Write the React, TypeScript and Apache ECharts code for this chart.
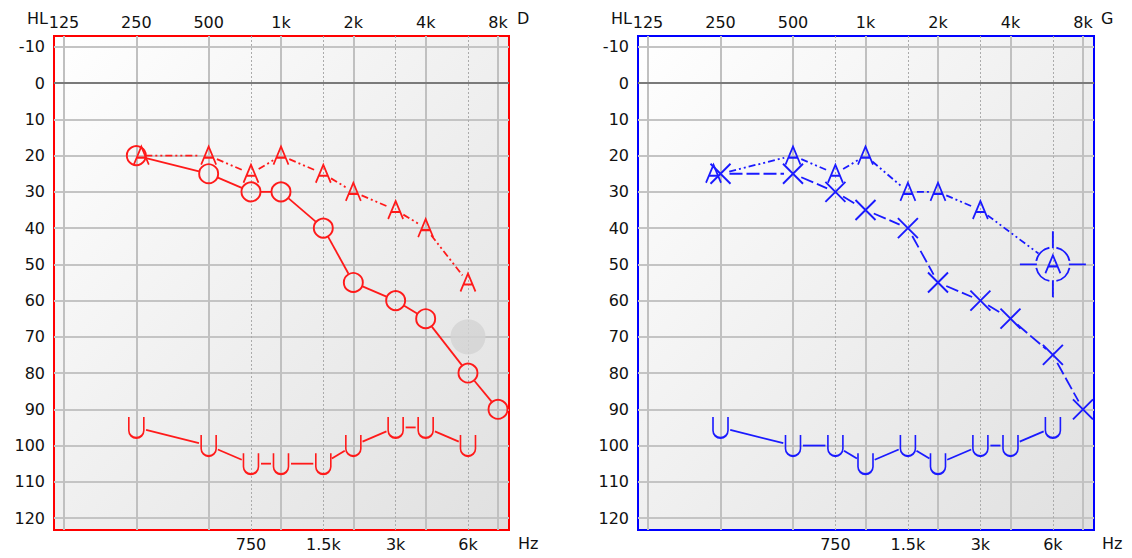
import React, { useEffect, useRef } from 'react';
import * as echarts from 'echarts';

// ---- axis ticks ----
const octaveFreqs = [125, 250, 500, 1000, 2000, 4000, 8000];
const octaveLabels = ['125', '250', '500', '1k', '2k', '4k', '8k'];
const halfFreqs = [750, 1500, 3000, 6000];
const halfLabels = ['750', '1.5k', '3k', '6k'];
const dbTicks = [-10, 0, 10, 20, 30, 40, 50, 60, 70, 80, 90, 100, 110, 120];

// ---- right ear (D, red) ----
const dACFreqs = [250, 500, 750, 1000, 1500, 2000, 3000, 4000, 6000, 8000];
const dAC = [20, 25, 30, 30, 40, 55, 60, 65, 80, 90];
const dAFreqs = [250, 500, 750, 1000, 1500, 2000, 3000, 4000, 6000];
const dA = [20, 20, 25, 20, 25, 30, 35, 40, 55];
const dUFreqs = [250, 500, 750, 1000, 1500, 2000, 3000, 4000, 6000];
const dU = [95, 100, 105, 105, 105, 100, 95, 95, 100];
const dGrayFreqs = [6000];
const dGray = [70];

// ---- left ear (G, blue) ----
const gACFreqs = [250, 500, 750, 1000, 1500, 2000, 3000, 4000, 6000, 8000];
const gAC = [25, 25, 30, 35, 40, 55, 60, 65, 75, 90];
const gAFreqs = [250, 500, 750, 1000, 1500, 2000, 3000, 6000];
const gA = [25, 20, 25, 20, 30, 30, 35, 50];
const gMaskFreqs = [6000];
const gMask = [50];
const gUFreqs = [250, 500, 750, 1000, 1500, 2000, 3000, 4000, 6000];
const gU = [95, 100, 100, 105, 100, 105, 100, 100, 95];

const oct = (f: number) => Math.log2(f / 125);
const X_MIN = -0.138;
const X_MAX = 6.152;
const Y_MIN = -13;
const Y_MAX = 123.3;

const RED = '#ff1a1a';
const BLUE = '#1a1aff';
const FONT = 'DejaVu Sans';
const FS = 16;

const SYM_A = 'path://M0,18L7.5,0L15,18M3.1,11L11.9,11';
const SYM_U = 'path://M0,0L0,14A7.5,7.5 0 0 0 15,14L15,0';
const SYM_X = 'path://M0,0L20,20M20,0L0,20';
const SYM_MASK =
  'path://M-33,0L-16,0M16,0L33,0M0,-33L0,-16M0,16L0,33' +
  'M16.6,3.5A17,17 0 0 1 3.5,16.6M-3.5,16.6A17,17 0 0 1 -16.6,3.5' +
  'M-16.6,-3.5A17,17 0 0 1 -3.5,-16.6M3.5,-16.6A17,17 0 0 1 16.6,-3.5';

function pts(freqs: number[], vals: number[], firstOffset?: number[]) {
  return freqs.map((f, i) =>
    i === 0 && firstOffset ? { value: [oct(f), vals[i]], symbolOffset: firstOffset } : [oct(f), vals[i]]
  );
}

function segSeries(g: number, freqs: number[], vals: number[], color: string, dash: any, gap: (i: number) => number) {
  const data: number[][] = [];
  for (let i = 0; i < freqs.length - 1; i++) {
    data.push([oct(freqs[i]), vals[i], oct(freqs[i + 1]), vals[i + 1], gap(i), gap(i + 1)]);
  }
  return {
    type: 'custom',
    xAxisIndex: g * 2,
    yAxisIndex: g,
    data,
    encode: { x: [0, 2], y: [1, 3] },
    silent: true,
    renderItem: (params: any, api: any) => {
      const a = api.coord([api.value(0), api.value(1)]);
      const b = api.coord([api.value(2), api.value(3)]);
      const dx = b[0] - a[0];
      const dy = b[1] - a[1];
      const L = Math.hypot(dx, dy);
      const g1 = api.value(4);
      const g2 = api.value(5);
      if (L <= g1 + g2 + 1) return null;
      const ux = dx / L;
      const uy = dy / L;
      return {
        type: 'line',
        shape: { x1: a[0] + ux * g1, y1: a[1] + uy * g1, x2: b[0] - ux * g2, y2: b[1] - uy * g2 },
        style: { stroke: color, lineWidth: 1.8, lineDash: dash, fill: null },
      };
    },
  };
}

function markSeries(g: number, freqs: number[], vals: number[], symbol: string, size: any, color: string, extra: any = {}, firstOffset?: number[]) {
  return {
    type: 'scatter',
    xAxisIndex: g * 2,
    yAxisIndex: g,
    data: pts(freqs, vals, firstOffset),
    symbol,
    symbolSize: size,
    silent: true,
    itemStyle: { color: 'rgba(0,0,0,0)', borderColor: color, borderWidth: 1.9, opacity: 1 },
    ...extra,
  };
}

function labelFor(values: number[], labels: string[]) {
  return (v: number) => {
    const i = values.findIndex((x) => Math.abs(x - v) < 1e-6);
    return i >= 0 ? labels[i] : '';
  };
}

const labelStyle = { color: '#111', fontSize: FS, fontFamily: FONT };

function xAxes(g: number) {
  const top = octaveFreqs.map(oct);
  const half = halfFreqs.map(oct);
  return [
    {
      type: 'value', gridIndex: g, position: 'top', min: X_MIN, max: X_MAX,
      axisLine: { show: false },
      axisTick: { show: false, customValues: top },
      axisLabel: { ...labelStyle, customValues: top, margin: 6, formatter: labelFor(top, octaveLabels) },
      splitLine: { show: true, lineStyle: { color: '#c0c0c0', width: 2 } },
    },
    {
      type: 'value', gridIndex: g, position: 'bottom', min: X_MIN, max: X_MAX,
      axisLine: { show: false },
      axisTick: { show: false, customValues: half },
      axisLabel: { ...labelStyle, customValues: half, margin: 6, formatter: labelFor(half, halfLabels) },
      splitLine: { show: true, lineStyle: { color: '#ababab', width: 1, type: [2, 2] } },
    },
  ];
}

function yAxis(g: number) {
  return {
    type: 'value', gridIndex: g, inverse: true, min: Y_MIN, max: Y_MAX,
    axisLine: { show: false },
    axisTick: { show: false, customValues: dbTicks },
    axisLabel: { ...labelStyle, customValues: dbTicks, margin: 9 },
    splitLine: { show: true, lineStyle: { color: '#c4c4c4', width: 2 } },
  };
}

function bg() {
  return new echarts.graphic.LinearGradient(0, 0, 1, 1, [
    { offset: 0, color: '#ffffff' },
    { offset: 1, color: '#e0e0e0' },
  ]);
}

const zeroLine = {
  silent: true,
  symbol: ['none', 'none'],
  label: { show: false },
  lineStyle: { color: '#7a7a7a', width: 2, type: 'solid' },
  data: [{ yAxis: 0 }],
};

export default function App() {
  const ref = useRef<HTMLDivElement>(null);
  useEffect(() => {
    if (!ref.current) return;
    const chart = echarts.init(ref.current, undefined, { renderer: 'svg' });
    const dashA = [7, 3, 2, 3, 2, 3];
    const dashX = [13, 4];
    const txt = (text: string, left: number, top: number) => ({
      type: 'text', left, top, style: { text, font: `${FS}px "${FONT}"`, fill: '#111' },
    });
    const option: any = {
      animation: false,
      grid: [
        { left: 54, top: 36, width: 455, height: 494, show: true, backgroundColor: bg(), borderColor: '#ff0000', borderWidth: 2 },
        { left: 638, top: 36, width: 456, height: 494, show: true, backgroundColor: bg(), borderColor: '#0000ff', borderWidth: 2 },
      ],
      xAxis: [...xAxes(0), ...xAxes(1)],
      yAxis: [yAxis(0), yAxis(1)],
      graphic: [
        txt('HL', 27, 10),
        txt('D', 517, 10),
        txt('Hz', 518, 535),
        txt('HL', 611, 10),
        txt('G', 1101, 10),
        txt('Hz', 1102, 535),
      ],
      series: [
        // left chart (D, red)
        markSeries(0, dGrayFreqs, dGray, 'circle', 35, '#d3d3d3', {
          itemStyle: { color: '#d3d3d3', borderWidth: 0 },
          markLine: zeroLine,
        }),
        segSeries(0, dACFreqs, dAC, RED, 'solid', () => 10),
        segSeries(0, dAFreqs, dA, RED, dashA, () => 9),
        segSeries(0, dUFreqs, dU, RED, 'solid', () => 10),
        markSeries(0, dACFreqs, dAC, 'circle', 19, RED),
        markSeries(0, dAFreqs, dA, SYM_A, [15, 18], RED, {}, [5, 0]),
        markSeries(0, dUFreqs, dU, SYM_U, [15, 21], RED),
        // right chart (G, blue)
        markSeries(1, gUFreqs, gU, SYM_U, [15, 21], BLUE, { markLine: zeroLine }),
        segSeries(1, gACFreqs, gAC, BLUE, dashX, () => 9),
        segSeries(1, gAFreqs, gA, BLUE, dashA, (i: number) => (gAFreqs[i] === gMaskFreqs[0] ? 18 : 9)),
        segSeries(1, gUFreqs, gU, BLUE, 'solid', () => 10),
        markSeries(1, gACFreqs, gAC, SYM_X, [20, 20], BLUE),
        markSeries(1, gAFreqs, gA, SYM_A, [15, 18], BLUE, {}, [-7, 0]),
        markSeries(1, gMaskFreqs, gMask, SYM_MASK, [66, 66], BLUE),
      ],
    };
    chart.setOption(option);
    return () => chart.dispose();
  }, []);
  return <div ref={ref} style={{ position: 'absolute', left: 0, top: 0, width: 1132, height: 558 }} />;
}
